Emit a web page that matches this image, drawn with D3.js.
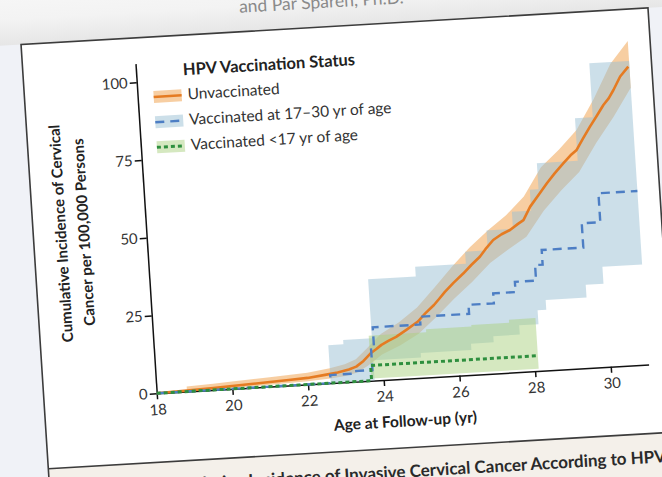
<!DOCTYPE html>
<html><head><meta charset="utf-8">
<script src="https://cdn.jsdelivr.net/npm/d3@7"></script>
<style>
html,body{margin:0;padding:0;background:#f1f3f7;overflow:hidden}
svg{display:block}
text{font-family:Lato,"Open Sans",sans-serif}
</style></head><body>
<svg id="chart" width="662" height="477"></svg>
<script>
// ---------- data ----------
const ageTicks = [18, 20, 22, 24, 26, 28, 30];
const incidenceTicks = [0, 25, 50, 75, 100];
const seriesNames = ["Unvaccinated", "Vaccinated at 17\u201330 yr of age", "Vaccinated <17 yr of age"];

// Unvaccinated: estimate
const unvaxAge = [18, 18.8, 19.5, 20, 20.5, 21, 21.5, 22, 22.5, 22.8, 23.1, 23.3, 23.5, 23.7, 23.85, 24, 24.2, 24.4, 24.7, 25, 25.2, 25.45, 25.6, 25.76, 26, 26.28, 26.5, 26.74, 26.9, 27.12, 27.35, 27.58, 27.8, 27.95, 28.15, 28.4, 28.63, 28.85, 29.1, 29.3, 29.47, 29.65, 29.86, 30.05, 30.25, 30.4, 30.54, 30.74, 30.97];
const unvaxVal = [0, 0.3, 0.6, 0.9, 1.2, 1.5, 1.8, 2.1, 2.8, 3.3, 4.0, 4.8, 6.5, 8.8, 10, 11.3, 12.5, 13.6, 15.8, 18.1, 20.5, 23.1, 25, 27.1, 29.8, 32.7, 35.2, 37.7, 40, 42.8, 44.5, 45.7, 47.5, 48.6, 52.8, 56.5, 60, 63, 66.1, 68.5, 70.1, 73.5, 77.3, 80.5, 84, 86, 88.6, 92.8, 95.8];
// Unvaccinated 95% CI
const unvaxBandAge = [18.8, 19.5, 20, 21, 22, 22.6, 23, 23.3, 23.6, 24, 24.5, 25, 25.5, 26, 26.5, 27, 27.5, 28, 28.5, 29, 29.5, 30, 30.5, 31];
const unvaxLower = [0, 0.1, 0.3, 0.6, 1.0, 1.5, 2.0, 2.8, 4.8, 8.2, 10.8, 14.2, 19.3, 24.8, 29.8, 35.5, 39.5, 43.2, 51.2, 57.5, 63, 72, 80, 89];
const unvaxUpper = [1.6, 2.0, 2.4, 3.0, 3.8, 4.8, 5.8, 7.2, 10.3, 14.8, 18.2, 22.6, 28.8, 35.2, 41, 46, 50.5, 56.2, 65.2, 70.5, 76.5, 86, 97, 104];

// Vaccinated at 17-30 yr (step function)
const vacAdultAge = [18, 22.6, 23.2, 23.72, 23.8, 25.06, 26.36, 27.03, 27.62, 28.18, 28.38, 29.48, 29.97, 31];
const vacAdultVal = [0, 2.6, 3.4, 10, 17.1, 19.6, 22.5, 25.7, 29, 34, 38.7, 46.5, 55.8, 55.8];
const vacAdultBandAge = [22.6, 23.0, 23.76, 25.02, 26.36, 26.96, 27.66, 28.17, 28.4, 29.48, 29.95, 31];
const vacAdultLower = [0, 0, 6.5, 8, 10, 12, 15, 19.5, 22.6, 26.7, 32.2, 32.2];
const vacAdultUpper = [12.2, 13.6, 32.6, 35.7, 39.6, 46, 51.5, 58.2, 66.6, 80.3, 97.6, 97.6];

// Vaccinated <17 yr (step function)
const vacTeenAge = [18, 23.68, 28.1];
const vacTeenVal = [0, 4.9, 4.9];
const vacTeenBandAge = [23.68, 25.2, 26.4, 27.4, 28.1];
const vacTeenLower = [0.7, 0.7, 0.7, 0.7, 0.7];
const vacTeenUpper = [14.5, 15.5, 16, 17, 17];

// ---------- drawing ----------
const W = 662, H = 477;
const svg = d3.select("#chart");
const colors = {
  orange: "#e57b22", orangeBand: "#f0a655",
  blue: "#4d7ec4", blueBand: "#99bfd3",
  green: "#2e8f3e", greenBand: "#abd181"
};

svg.append("rect").attr("width", W).attr("height", H).attr("fill", "#f0f2f7");

// photographed page: slight rotation / shear
const g = svg.append("g")
  .attr("transform", "matrix(0.9983,-0.0584,0.0642,0.998,156.7,393.3)");

const frame = { left: -113, right: 515, top: -356, bottom: 69, capBottom: 220 };

// page area above the figure box
const defs = svg.append("defs");
const grad = defs.append("linearGradient").attr("id", "topShade")
  .attr("gradientUnits", "userSpaceOnUse").attr("x1", 0).attr("x2", 0)
  .attr("y1", -420).attr("y2", frame.top);
grad.append("stop").attr("offset", 0).attr("stop-color", "#f8f8f8");
grad.append("stop").attr("offset", 0.6).attr("stop-color", "#f3f3f3");
grad.append("stop").attr("offset", 1).attr("stop-color", "#e6e6e6");
g.append("rect").attr("x", -500).attr("y", -520)
  .attr("width", 1400).attr("height", 520 + frame.top).attr("fill", "url(#topShade)");

g.append("text").attr("x", 107).attr("y", -375)
  .attr("font-size", 17.5).attr("fill", "#8a8a8a")
  .text("and P\u00e4r Spar\u00e9n, Ph.D.");

// figure box
g.append("rect").attr("x", frame.left).attr("y", frame.top)
  .attr("width", frame.right - frame.left).attr("height", frame.bottom - frame.top)
  .attr("fill", "#ffffff");
g.append("rect").attr("x", frame.left).attr("y", frame.bottom)
  .attr("width", frame.right - frame.left).attr("height", frame.capBottom - frame.bottom)
  .attr("fill", "#f4f0ea");
g.append("rect").attr("x", frame.left).attr("y", frame.top)
  .attr("width", frame.right - frame.left).attr("height", frame.capBottom - frame.top)
  .attr("fill", "none").attr("stroke", "#3c3c3c").attr("stroke-width", 1.6);
g.append("line").attr("x1", frame.left).attr("x2", frame.right)
  .attr("y1", frame.bottom).attr("y2", frame.bottom)
  .attr("stroke", "#3c3c3c").attr("stroke-width", 1.6);

const capY = 98.5;
g.append("text").attr("x", 504).attr("y", capY).attr("text-anchor", "end")
  .attr("font-size", 17).attr("font-weight", 700).attr("fill", "#2a2a2a")
  .text("Figure 1. Cumulative Incidence of Invasive Cervical Cancer According to HPV");
g.append("text").attr("x", 509).attr("y", capY).attr("font-size", 17)
  .attr("font-weight", 700).attr("fill", "#2a2a2a").text("Vaccination Status.");

// scales
const x = d3.scaleLinear().domain([18, 31]).range([0, 492.7]);
const y = d3.scaleLinear().domain([0, 106]).range([0, -330.3]);

// axes
g.append("g").attr("class", "axis")
  .call(d3.axisBottom(x).tickValues(ageTicks).tickSize(6).tickPadding(5).tickSizeOuter(0));
g.append("g").attr("class", "axis")
  .call(d3.axisLeft(y).tickValues(incidenceTicks).tickSize(7).tickPadding(2).tickSizeOuter(0));
g.selectAll(".axis path, .axis line").attr("stroke", "#111").attr("stroke-width", 1.5);
g.selectAll(".axis text").attr("font-family", "Lato, sans-serif")
  .attr("font-size", 15).attr("fill", "#333");

g.append("text").attr("x", x(24.5)).attr("y", 47.7).attr("text-anchor", "middle")
  .attr("font-size", 15.5).attr("font-weight", 700).attr("fill", "#222")
  .text("Age at Follow-up (yr)");
const yMid = y(53);
g.append("text").attr("transform", `translate(-80,${yMid}) rotate(-90)`)
  .attr("text-anchor", "middle").attr("font-size", 15).attr("font-weight", 700).attr("fill", "#222")
  .text("Cumulative Incidence of Cervical");
g.append("text").attr("transform", `translate(-57,${yMid}) rotate(-90)`)
  .attr("text-anchor", "middle").attr("font-size", 15).attr("font-weight", 700).attr("fill", "#222")
  .text("Cancer per 100,000 Persons");

// bands
const zipBand = (a, lo, hi) => a.map((v, i) => ({ age: v, lo: lo[i], hi: hi[i] }));
const zipLine = (a, v) => a.map((t, i) => ({ age: t, val: v[i] }));

const areaLin = d3.area().x(d => x(d.age)).y0(d => y(d.lo)).y1(d => y(d.hi));
const areaStep = d3.area().x(d => x(d.age)).y0(d => y(d.lo)).y1(d => y(d.hi)).curve(d3.curveStepAfter);
const lineLin = d3.line().x(d => x(d.age)).y(d => y(d.val));
const lineStep = d3.line().x(d => x(d.age)).y(d => y(d.val)).curve(d3.curveStepAfter);

g.append("path").datum(zipBand(unvaxBandAge, unvaxLower, unvaxUpper))
  .attr("d", areaLin).attr("fill", colors.orangeBand).attr("fill-opacity", 0.55);
g.append("path").datum(zipBand(vacAdultBandAge, vacAdultLower, vacAdultUpper))
  .attr("d", areaStep).attr("fill", colors.blueBand).attr("fill-opacity", 0.5);
g.append("path").datum(zipBand(vacTeenBandAge, vacTeenLower, vacTeenUpper))
  .attr("d", areaStep).attr("fill", colors.greenBand).attr("fill-opacity", 0.5);

// lines
g.append("path").datum(zipLine(unvaxAge, unvaxVal)).attr("d", lineLin)
  .attr("fill", "none").attr("stroke", colors.orange).attr("stroke-width", 2.6)
  .attr("stroke-linejoin", "round");
g.append("path").datum(zipLine(vacAdultAge, vacAdultVal)).attr("d", lineStep)
  .attr("fill", "none").attr("stroke", colors.blue).attr("stroke-width", 2.4)
  .attr("stroke-dasharray", "9,6");
g.append("path").datum(zipLine(vacTeenAge, vacTeenVal)).attr("d", lineStep)
  .attr("fill", "none").attr("stroke", colors.green).attr("stroke-width", 3)
  .attr("stroke-dasharray", "4,3");

// legend
const legend = g.append("g");
legend.append("text").attr("x", 47).attr("y", -316).attr("font-size", 16.5)
  .attr("font-weight", 700).attr("fill", "#222").text("HPV Vaccination Status");
const legendItems = [
  { name: seriesNames[0], band: colors.orangeBand, bandOp: 0.55, stroke: colors.orange, dash: null, w: 2.6 },
  { name: seriesNames[1], band: colors.blueBand, bandOp: 0.5, stroke: colors.blue, dash: "9,6", w: 2.4 },
  { name: seriesNames[2], band: colors.greenBand, bandOp: 0.5, stroke: colors.green, dash: "4,3", w: 3 }
];
const rowY = [-296, -270.7, -245.5];
legendItems.forEach((it, i) => {
  const row = legend.append("g").attr("transform", `translate(0,${rowY[i]})`);
  row.append("rect").attr("x", 16).attr("y", -6).attr("width", 28).attr("height", 12)
    .attr("fill", it.band).attr("fill-opacity", it.bandOp);
  row.append("line").attr("x1", 16).attr("x2", 44).attr("y1", 0).attr("y2", 0)
    .attr("stroke", it.stroke).attr("stroke-width", it.w)
    .attr("stroke-dasharray", it.dash);
  row.append("text").attr("x", 50).attr("y", 4.5).attr("font-size", 15.5)
    .attr("fill", "#333").text(it.name);
});
</script></body></html>
